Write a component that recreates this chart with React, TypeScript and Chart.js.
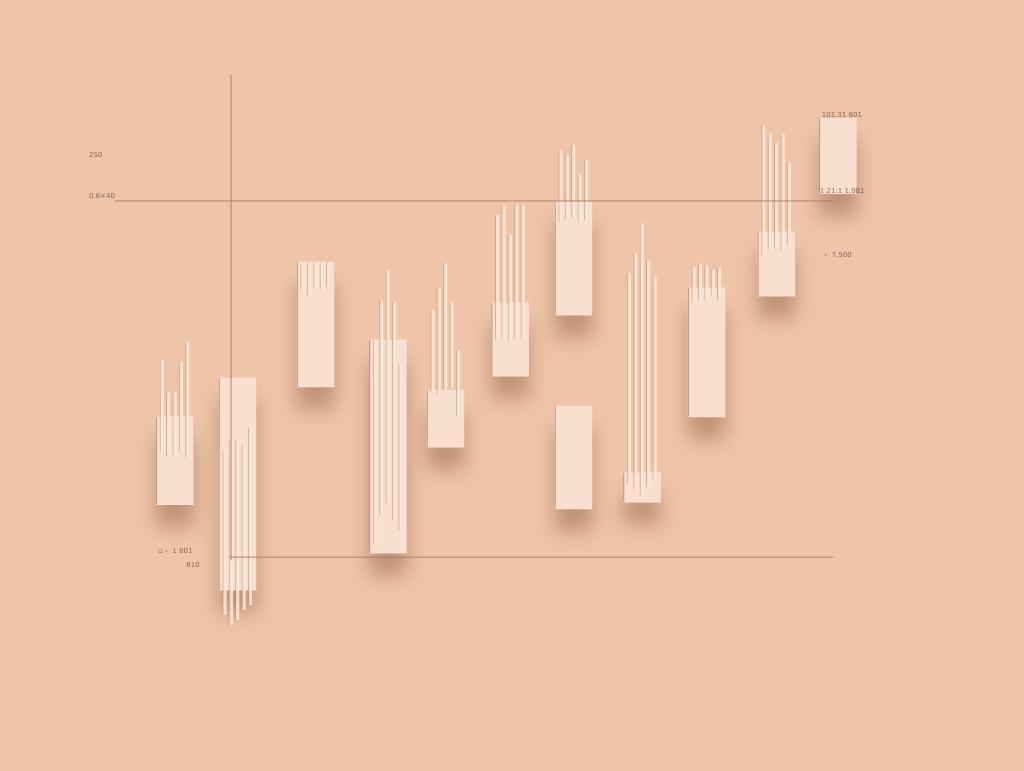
import React, { useEffect, useRef } from "react";
import { Chart, registerables } from "chart.js";

Chart.register(...registerables);

// Candle positions (period index) and body ranges
const periods = [2.73, 3.71, 4.93, 6.06, 6.96, 7.97, 8.96, 8.96, 10.03, 11.04, 12.13, 13.09];
const bodyHigh = [68.9, 76.5, 99.0, 83.9, 74.1, 91.1, 110.7, 71.0, 58.0, 94.0, 104.9, 127.0];
const bodyLow = [51.8, 35.2, 74.7, 42.4, 63.0, 76.8, 88.7, 51.0, 52.3, 68.9, 92.4, 112.3];

// Five wick strands per candle (null = no strands)
const wickHigh: (number[] | null)[] = [
  [80.0, 73.7, 73.7, 79.6, 83.3],
  [62.5, 64.4, 64.4, 63.8, 66.9],
  [98.8, 99.0, 99.0, 98.8, 99.0],
  [83.9, 91.6, 97.5, 91.1, 79.4],
  [89.7, 94.0, 98.8, 91.1, 81.9],
  [108.2, 110.1, 104.3, 110.1, 110.1],
  [120.8, 119.8, 121.8, 116.0, 118.9],
  null,
  [96.9, 100.8, 106.6, 99.4, 96.1],
  [98.1, 98.8, 98.4, 97.5, 97.9],
  [125.7, 124.1, 122.2, 124.1, 118.3],
  null,
];
const wickLow: (number[] | null)[] = [
  [61.9, 61.3, 61.5, 62.1, 60.9],
  [30.4, 28.4, 29.4, 31.3, 32.3],
  [93.6, 92.4, 94.0, 93.6, 94.2],
  [44.0, 49.8, 51.8, 48.8, 46.9],
  [73.7, 73.2, 74.1, 74.5, 68.9],
  [83.9, 83.9, 83.5, 83.9, 84.2],
  [106.8, 107.2, 107.6, 106.8, 107.2],
  null,
  [56.0, 54.7, 53.3, 55.3, 56.6],
  [91.2, 91.6, 91.6, 92.6, 91.6],
  [100.4, 101.4, 101.8, 101.0, 102.3],
  null,
];

// Reference lines
const upperLevel = 110.9;
const lowerLevel = 41.6;
const upperLineFrom = 1.8;
const lowerLineFrom = 3.59;
const lineTo = 13.02;
const axisX = 3.61;
const axisTop = 135.4;

// Text labels
const labelTexts = ["250", "0.6×40", "101.31 801", "1.21:1 1,981", "›  7,500", "▫ ›  1 801", "810"];
const labelX = [1.39, 1.39, 12.84, 12.81, 12.88, 2.47, 2.91];
const labelY = [119.8, 111.9, 127.6, 112.9, 100.4, 42.8, 40.1];

const strandOffsets = [-0.2, -0.1, 0, 0.1, 0.2];

const BG = "#EFC5A9";
const BODY = "#F8DFCF";
const LINE = "rgba(160,118,96,0.85)";

export default function App() {
  const ref = useRef<HTMLCanvasElement | null>(null);

  useEffect(() => {
    if (!ref.current) return;

    const bodyData = () => periods.map((x, i) => ({ x, y: [bodyLow[i], bodyHigh[i]] }));

    const strandSets = strandOffsets.map((off, j) => ({
      type: "bar" as const,
      label: "strand" + j,
      data: periods
        .map((x, i) => {
          const hi = wickHigh[i];
          const lo = wickLow[i];
          if (!hi || !lo) return null;
          return { x: x + off, y: [lo[j], hi[j]] };
        })
        .filter((d) => d !== null),
      backgroundColor: "rgba(251,230,216,0.85)",
      borderColor: "rgba(170,120,92,0.45)",
      borderWidth: { left: 1, right: 0, top: 0, bottom: 0 },
      borderSkipped: false,
      barThickness: 4,
      grouped: false,
      order: 1,
    }));

    const lineSet = (pts: { x: number; y: number }[]) => ({
      type: "line" as const,
      data: pts,
      borderColor: LINE,
      borderWidth: 1,
      pointRadius: 0,
      fill: false,
      order: 0,
    });

    const shadowPlugin = {
      id: "bodyShadow",
      beforeDatasetDraw(chart: any, args: any) {
        if (args.meta && args.meta.label === "shadow") {
          const c = chart.ctx;
          c.save();
          c.shadowColor = "rgba(125,75,45,0.42)";
          c.shadowBlur = 20;
          c.shadowOffsetY = 22;
        }
      },
      afterDatasetDraw(chart: any, args: any) {
        if (args.meta && args.meta.label === "shadow") chart.ctx.restore();
      },
    };

    const labelPlugin = {
      id: "labels",
      afterDraw(chart: any) {
        const c = chart.ctx;
        const xs = chart.scales.x;
        const ys = chart.scales.y;
        c.save();
        c.font = "7px 'DejaVu Sans'";
        c.fillStyle = "rgba(105,80,66,0.8)";
        c.textBaseline = "middle";
        c.textAlign = "left";
        labelTexts.forEach((t, i) => {
          c.fillText(t, xs.getPixelForValue(labelX[i]), ys.getPixelForValue(labelY[i]));
        });
        c.restore();
      },
    };

    const chart = new Chart(ref.current, {
      type: "bar",
      data: {
        datasets: [
          {
            type: "bar",
            label: "shadow",
            data: bodyData() as any,
            backgroundColor: BODY,
            borderWidth: 0,
            barThickness: 37,
            grouped: false,
            order: 3,
          } as any,
          {
            type: "bar",
            label: "body",
            data: bodyData() as any,
            backgroundColor: BODY,
            borderColor: "rgba(150,105,80,0.6)",
            borderWidth: { left: 1.2, right: 0, top: 0, bottom: 0 },
            borderSkipped: false,
            barThickness: 37,
            grouped: false,
            order: 2,
          } as any,
          ...(strandSets as any[]),
          lineSet([
            { x: upperLineFrom, y: upperLevel },
            { x: lineTo, y: upperLevel },
          ]) as any,
          lineSet([
            { x: lowerLineFrom, y: lowerLevel },
            { x: lineTo, y: lowerLevel },
          ]) as any,
          lineSet([
            { x: axisX, y: lowerLevel - 0.6 },
            { x: axisX, y: axisTop },
          ]) as any,
        ],
      },
      options: {
        responsive: false,
        animation: false,
        devicePixelRatio: 1,
        layout: { padding: 0 },
        plugins: { legend: { display: false }, tooltip: { enabled: false } },
        scales: {
          x: { type: "linear", min: 0, max: 16, display: false, offset: false },
          y: { type: "linear", min: 0, max: 150, display: false },
        },
      } as any,
      plugins: [shadowPlugin, labelPlugin],
    });

    return () => chart.destroy();
  }, []);

  return (
    <div style={{ position: "fixed", left: 0, top: 0, width: 1024, height: 771, background: BG }}>
      <canvas ref={ref} width={1024} height={771} style={{ display: "block" }} />
    </div>
  );
}
